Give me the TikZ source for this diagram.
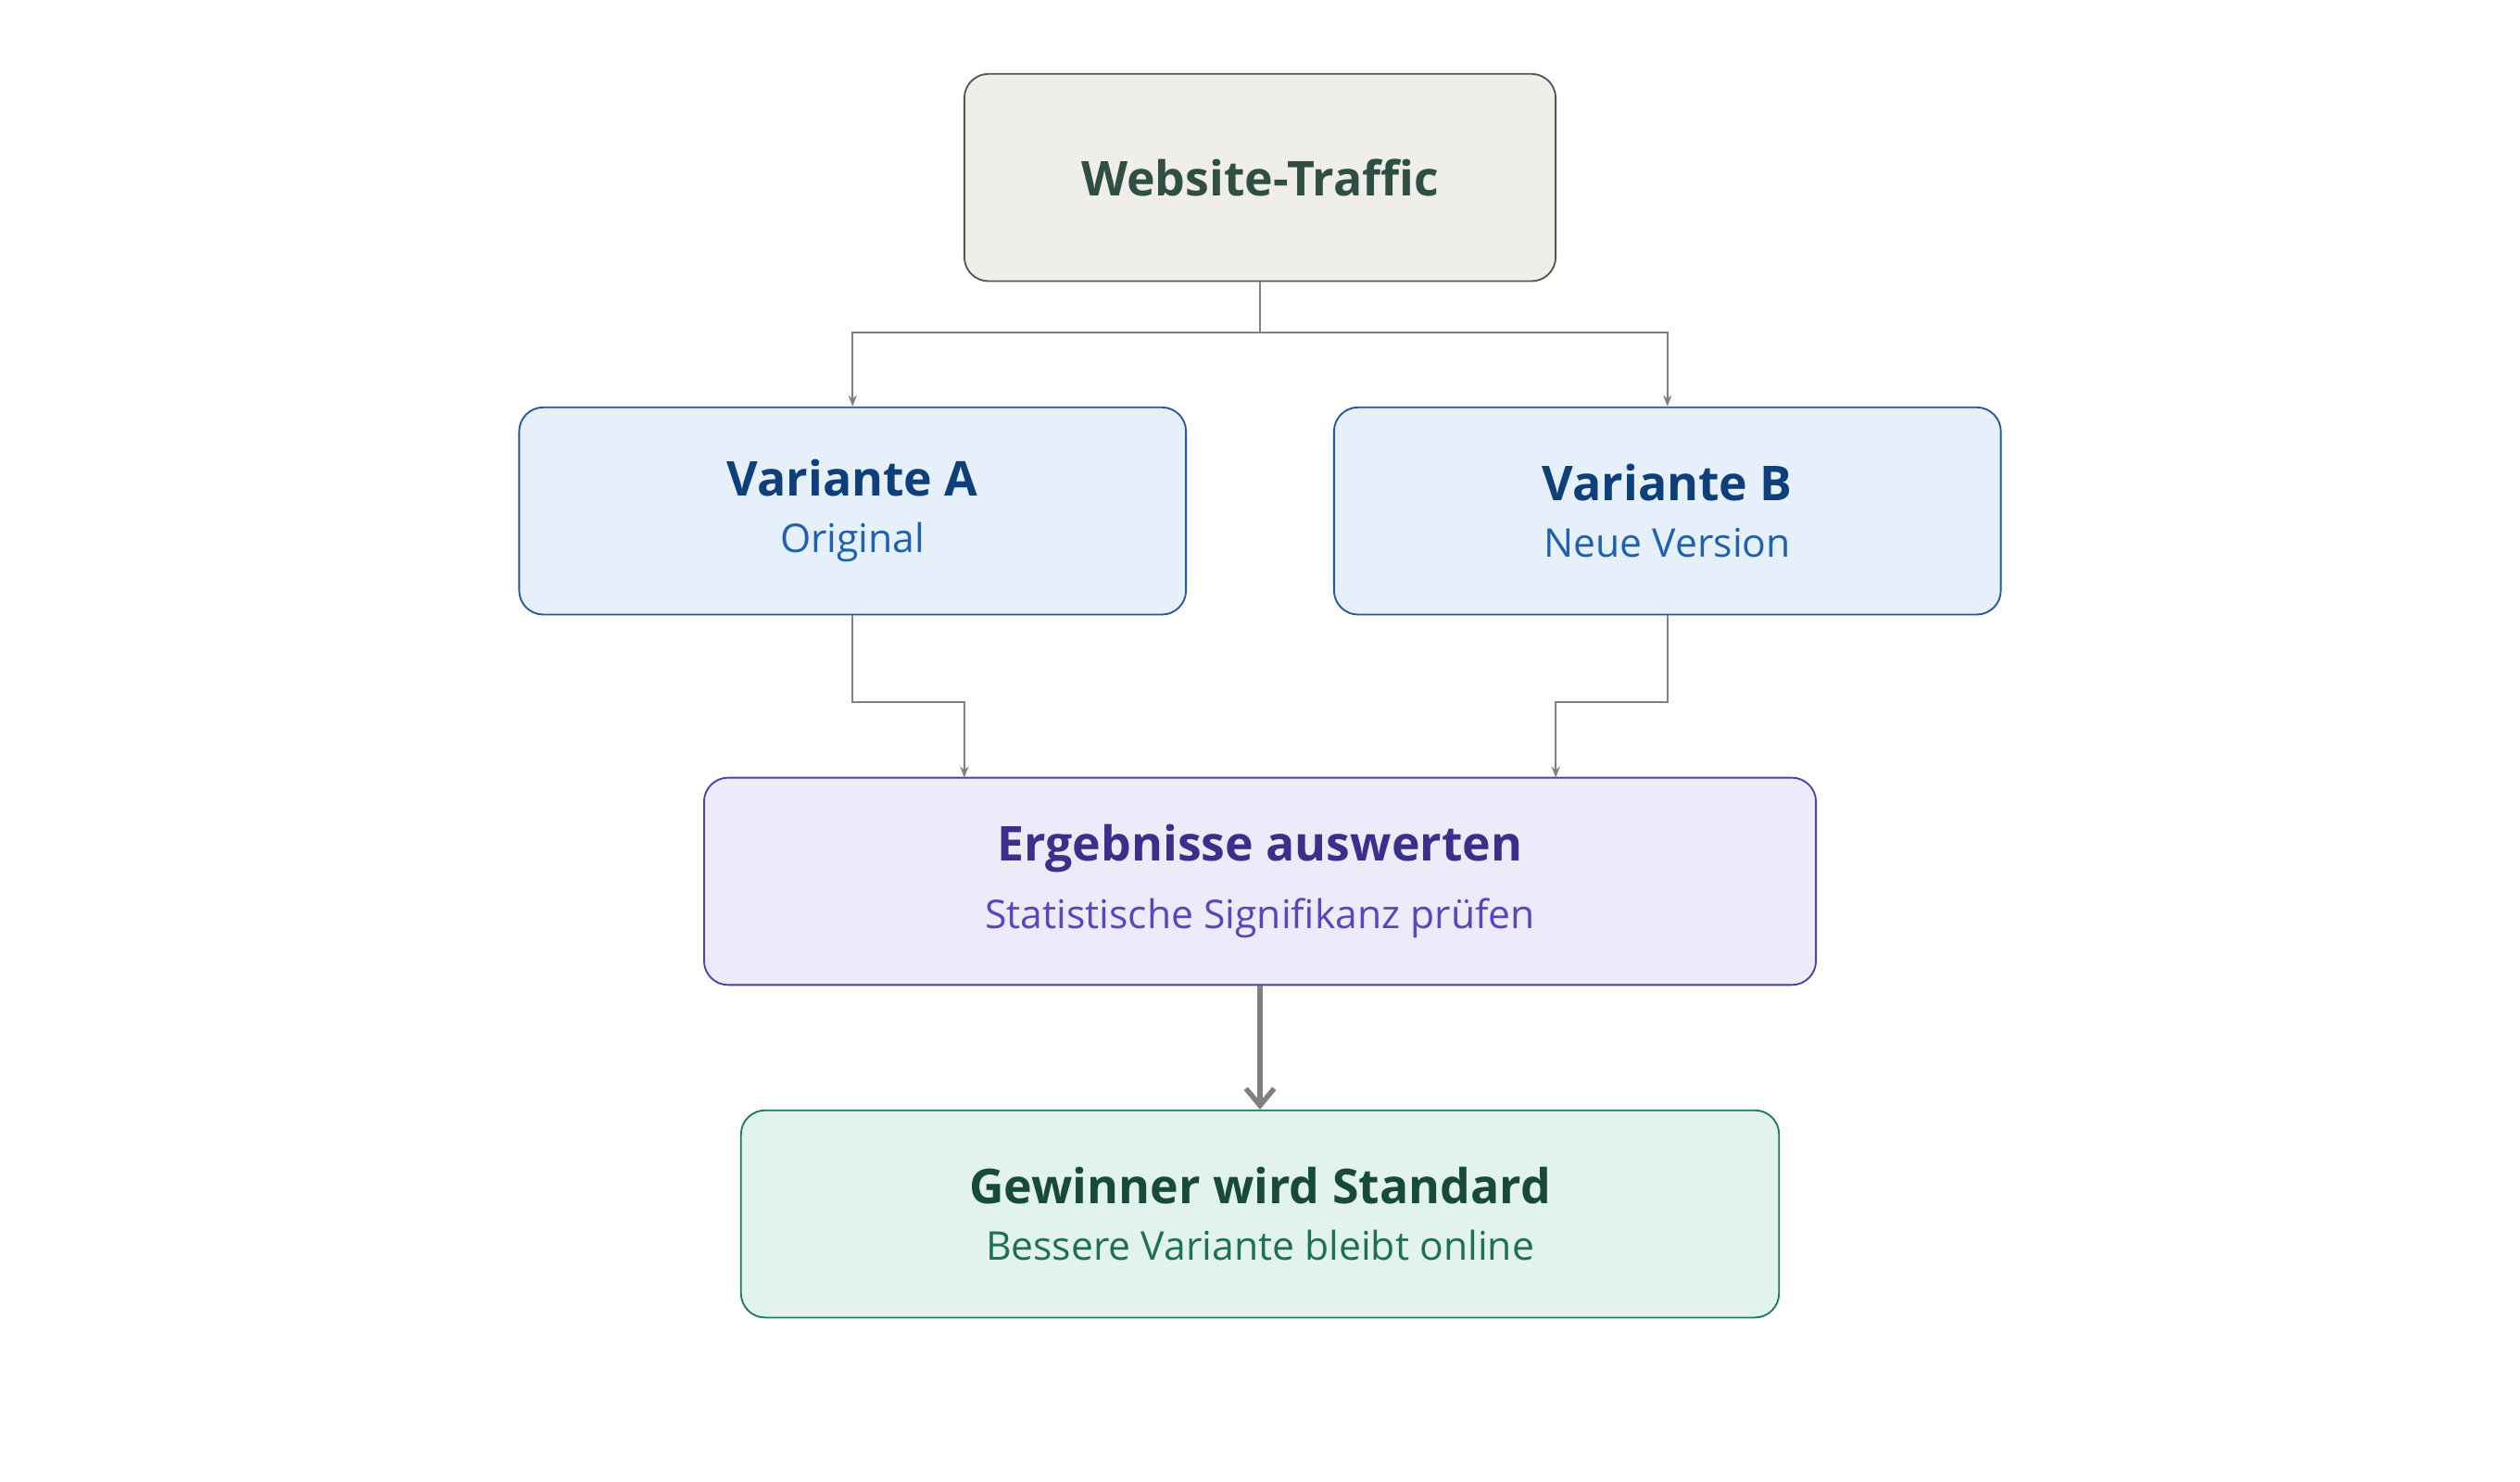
\documentclass[tikz,border=0pt]{standalone}
\usepackage{fontspec}
\setmainfont{Open Sans}
\usetikzlibrary{positioning, calc, arrows.meta}

\definecolor{trafficfill}{HTML}{F0EEE8}
\definecolor{trafficline}{HTML}{555555}
\definecolor{traffictext}{HTML}{2F4F45}
\definecolor{varfill}{HTML}{E6F0FA}
\definecolor{varline}{HTML}{1F56A8}
\definecolor{vartitle}{HTML}{0D3F7A}
\definecolor{varsub}{HTML}{2060B0}
\definecolor{evalfill}{HTML}{EDEBFA}
\definecolor{evalline}{HTML}{4A3FB0}
\definecolor{evaltitle}{HTML}{3A2F8A}
\definecolor{evalsub}{HTML}{5547C0}
\definecolor{winfill}{HTML}{E1F3EC}
\definecolor{winline}{HTML}{1F7A55}
\definecolor{wintitle}{HTML}{174A38}
\definecolor{winsub}{HTML}{1E7050}

\tikzset{
  box/.style={draw, rounded corners=0.3cm, minimum height=2.58cm, align=center, line width=0.6pt},
  conn/.style={draw=gray, line width=0.6pt, -{Stealth[length=4pt,width=3pt]}},
  bigconn/.style={draw=gray, line width=1.8pt, -{Straight Barb[length=6pt,width=10pt]}},
}
\newcommand{\boxtext}[4]{{\fontsize{17}{20}\selectfont\bfseries\color{#1}#2}\\[0.28cm]{\fontsize{14}{17}\selectfont\color{#3}#4}}

\begin{document}
\begin{tikzpicture}[x=0.02cm, y=-0.02cm]
  \useasboundingbox (0,0) rectangle (1568,922);

  \node[box, fill=trafficfill, draw=trafficline, minimum width=7.36cm] (traffic) at (784,110.5)
    {\fontsize{17}{20}\selectfont\bfseries\color{traffictext}Website-Traffic};
  \node[box, fill=varfill, draw=varline, minimum width=8.3cm] (varA) at (530.5,318)
    {\boxtext{vartitle}{Variante A}{varsub}{Original}};
  \node[box, fill=varfill, draw=varline, minimum width=8.3cm] (varB) at (1037.5,318)
    {\boxtext{vartitle}{Variante B}{varsub}{Neue Version}};
  \node[box, fill=evalfill, draw=evalline, minimum width=13.84cm] (eval) at (784,548.5)
    {\boxtext{evaltitle}{Ergebnisse auswerten}{evalsub}{Statistische Signifikanz prüfen}};
  \node[box, fill=winfill, draw=winline, minimum width=12.92cm] (win) at (784,755.5)
    {\boxtext{wintitle}{Gewinner wird Standard}{winsub}{Bessere Variante bleibt online}};

  % split and merge
  \coordinate (split) at (784,207);
  \draw[conn] (traffic.south) -- (split) -| (varA.north);
  \draw[conn] (split) -| (varB.north);
  \draw[conn] (varA.south) |- (600,437) -- (600,484);
  \draw[conn] (varB.south) |- (968,437) -- (968,484);
  \draw[bigconn] (eval.south) -- (win.north);
\end{tikzpicture}
\end{document}
